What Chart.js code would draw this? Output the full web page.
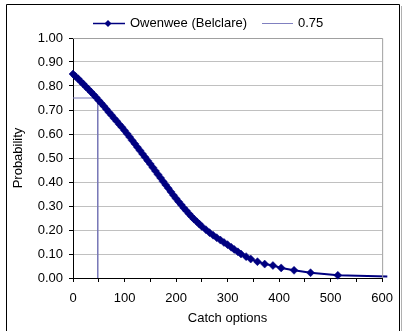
<!DOCTYPE html>
<html><head><meta charset="utf-8">
<script src="https://cdn.jsdelivr.net/npm/chart.js@4.4.1/dist/chart.umd.min.js"></script>
<style>html,body{margin:0;padding:0;background:#fff;overflow:hidden}</style>
</head><body>
<canvas id="c" width="402" height="331"></canvas>
<script>
// Data
const catchOptions = [0,5,10,15,20,25,30,35,40,45,50,55,60,65,70,75,80,85,90,95,
  100,105,110,115,120,125,130,135,140,145,150,155,160,165,170,175,180,185,190,195,
  200,205,210,215,220,225,230,235,240,245,250,258,265,272,279,286,293,300,307,313,
  320,326,336,345,358,372,388,404,429,461,514,610];
const probability = [0.850,0.840,0.830,0.819,0.808,0.797,0.786,0.775,0.764,0.752,
  0.740,0.728,0.716,0.703,0.690,0.678,0.665,0.653,0.640,0.628,
  0.615,0.601,0.587,0.573,0.559,0.545,0.531,0.517,0.503,0.489,
  0.475,0.460,0.446,0.431,0.417,0.402,0.388,0.374,0.359,0.345,
  0.331,0.318,0.305,0.292,0.280,0.268,0.256,0.245,0.235,0.225,
  0.215,0.201,0.189,0.178,0.168,0.158,0.148,0.139,0.128,0.119,
  0.109,0.100,0.089,0.079,0.068,0.058,0.052,0.042,0.032,0.022,0.011,0.006];
const refCatch = [0, 48, 48];
const refProb = [0.75, 0.75, 0];
const seriesNames = ['Owenwee (Belclare)', '0.75'];

const FONT = '"Liberation Sans", Arial, sans-serif';
Chart.defaults.font.family = FONT;
Chart.defaults.font.size = 13;
Chart.defaults.color = '#000';

const mainData = catchOptions.map((x, i) => ({x, y: probability[i]}));
const refData = refCatch.map((x, i) => ({x, y: refProb[i]}));

const framePlugin = {
  id: 'frame',
  beforeDraw(chart) {
    const ctx = chart.ctx;
    ctx.save();
    ctx.fillStyle = '#fff';
    ctx.fillRect(0, 0, chart.width, chart.height);
    ctx.restore();
  },
  afterDraw(chart) {
    const ctx = chart.ctx;
    const a = chart.chartArea;
    ctx.save();
    ctx.strokeStyle = '#a0a0a0';
    ctx.lineWidth = 1;
    ctx.beginPath();
    ctx.moveTo(a.left, a.top + 0.5);
    ctx.lineTo(a.right + 0.5, a.top + 0.5);
    ctx.lineTo(a.right + 0.5, a.bottom);
    ctx.stroke();
    ctx.strokeStyle = '#000';
    ctx.beginPath();
    ctx.moveTo(6.5, 340);
    ctx.lineTo(6.5, 4.5);
    ctx.lineTo(399.5, 4.5);
    ctx.lineTo(399.5, 340);
    ctx.stroke();
    ctx.strokeStyle = '#b0b0b0';
    ctx.beginPath();
    ctx.moveTo(401.5, 6);
    ctx.lineTo(401.5, 340);
    ctx.stroke();
    const ly = 23.5;
    ctx.strokeStyle = '#000080';
    ctx.lineWidth = 1.5;
    ctx.beginPath(); ctx.moveTo(93, ly); ctx.lineTo(125, ly); ctx.stroke();
    ctx.fillStyle = '#000080';
    ctx.beginPath();
    ctx.moveTo(108 - 3.5, ly); ctx.lineTo(108, ly - 3.5); ctx.lineTo(108 + 3.5, ly); ctx.lineTo(108, ly + 3.5);
    ctx.closePath(); ctx.fill();
    ctx.strokeStyle = '#8080c0';
    ctx.lineWidth = 1;
    ctx.beginPath(); ctx.moveTo(262, ly); ctx.lineTo(293, ly); ctx.stroke();
    ctx.fillStyle = '#000';
    ctx.font = '13px ' + FONT;
    ctx.textBaseline = 'middle';
    ctx.textAlign = 'left';
    ctx.fillText(seriesNames[0], 130, ly);
    ctx.fillText(seriesNames[1], 298, ly);
    ctx.restore();
  }
};

new Chart(document.getElementById('c'), {
  type: 'scatter',
  data: {
    datasets: [
      {
        label: seriesNames[0],
        data: mainData,
        showLine: true,
        borderColor: '#000080',
        backgroundColor: '#000080',
        borderWidth: 2,
        pointStyle: 'rectRot',
        pointRadius: ctx => (ctx.dataIndex === catchOptions.length - 1 ? 0 : 4),
        pointBorderWidth: 0.5,
        pointBorderColor: '#000080',
        pointBackgroundColor: '#000080',
        clip: {left: 5, top: 5, right: 6, bottom: 5},
        order: 1
      },
      {
        label: seriesNames[1],
        data: refData,
        showLine: true,
        borderColor: '#7878b8',
        borderWidth: 1,
        pointRadius: 0,
        order: 2
      }
    ]
  },
  options: {
    responsive: false,
    animation: false,
    devicePixelRatio: 1,
    layout: {padding: {left: 0, right: 15, top: 38, bottom: 0}},
    plugins: {legend: {display: false}, tooltip: {enabled: false}},
    scales: {
      x: {
        type: 'linear', min: 0, max: 600,
        ticks: {
          stepSize: 50, autoSkip: false, maxRotation: 0, padding: 9,
          callback: v => (v % 100 === 0 ? String(v) : '')
        },
        grid: {drawOnChartArea: false, tickLength: 4, tickColor: '#000'},
        border: {color: '#000', width: 1},
        title: {display: true, text: 'Catch options', padding: {top: 0, bottom: 5}},
        afterFit: s => { s.height = 53; }
      },
      y: {
        min: 0, max: 1,
        ticks: {stepSize: 0.1, padding: 6, callback: v => Number(v).toFixed(2)},
        grid: {color: '#c0c0c0', tickLength: 4, tickColor: '#000'},
        border: {color: '#000', width: 1},
        title: {display: true, text: 'Probability', padding: {top: 11, bottom: 0}},
        afterFit: s => { s.width = 73; }
      }
    }
  },
  plugins: [framePlugin]
});
</script>
</body></html>
